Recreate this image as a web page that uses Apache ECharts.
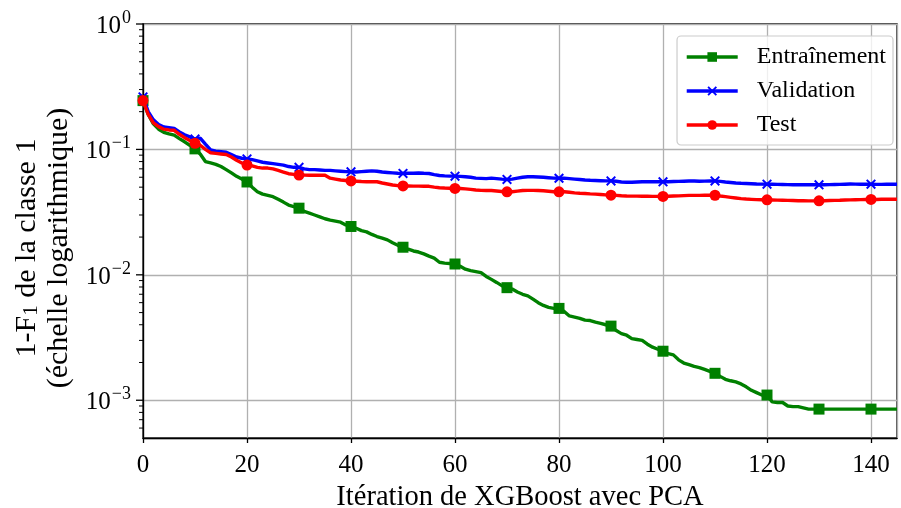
<!DOCTYPE html>
<html><head><meta charset="utf-8">
<script src="https://cdn.jsdelivr.net/npm/echarts@6/dist/echarts.min.js"></script>
<style>html,body{margin:0;padding:0;background:#fff}#c{width:901px;height:508px}</style>
</head><body><div id="c"></div>
<script>
// 1 - F1 (class 1) per XGBoost iteration, iterations 0..145
const trainVals = [
0.245,0.19,0.16,0.145,0.137,0.133,0.13,0.122,0.115,0.108,
0.101,0.092,0.08,0.078,0.076,0.073,0.069,0.065,0.061,0.058,
0.055,0.05,0.046,0.044,0.043,0.042,0.04,0.038,0.036,0.035,
0.034,0.032,0.031,0.030,0.029,0.028,0.0273,0.0268,0.0263,0.025,
0.0243,0.0235,0.0225,0.022,0.021,0.0202,0.0196,0.019,0.018,0.0172,
0.0166,0.016,0.0155,0.0152,0.0147,0.0141,0.0136,0.0126,0.0124,0.0123,
0.0122,0.0117,0.0111,0.0108,0.0106,0.0104,0.0097,0.0092,0.0087,0.0082,
0.0079,0.0077,0.0073,0.0070,0.0068,0.0064,0.0060,0.0057,0.0055,0.0054,
0.0054,0.0051,0.0047,0.0046,0.0045,0.00435,0.00432,0.0042,0.0041,0.0040,
0.0039,0.0036,0.0034,0.0033,0.0031,0.00305,0.003,0.0028,0.00265,0.00255,
0.00246,0.00235,0.0023,0.0021,0.00198,0.00192,0.00186,0.00182,0.00176,0.0017,
0.00164,0.00155,0.00147,0.00143,0.0014,0.00135,0.00128,0.0012,0.00115,0.0011,
0.0011,0.00097,0.00096,0.00096,0.0009,0.00089,0.00089,0.00087,0.00085,0.00085,
0.00085,0.00085,0.00085,0.00085,0.00085,0.00085,0.00085,0.00085,0.00085,0.00085,
0.00085,0.00085,0.00085,0.00085,0.00085,0.00085
];
const validVals = [
0.262,0.2,0.172,0.158,0.151,0.149,0.147,0.138,0.131,0.126,
0.121,0.123,0.11,0.099,0.097,0.096,0.095,0.091,0.087,0.085,
0.084,0.083,0.081,0.079,0.078,0.077,0.076,0.075,0.073,0.072,
0.072,0.07,0.069,0.069,0.0685,0.068,0.068,0.0675,0.067,0.0665,
0.0663,0.066,0.0665,0.067,0.0675,0.067,0.066,0.0655,0.065,0.0645,
0.0643,0.0645,0.0645,0.0648,0.0645,0.0643,0.063,0.062,0.0615,0.0612,
0.0612,0.061,0.0605,0.06,0.059,0.0588,0.0585,0.059,0.0585,0.058,
0.0576,0.058,0.059,0.06,0.0605,0.0605,0.0603,0.06,0.0595,0.059,
0.0589,0.059,0.0585,0.058,0.0575,0.057,0.0567,0.0565,0.0563,0.0561,
0.0561,0.0557,0.055,0.0548,0.0548,0.055,0.0552,0.0553,0.0552,0.0552,
0.0552,0.0553,0.0555,0.0556,0.0558,0.056,0.056,0.0558,0.0559,0.056,
0.0561,0.0556,0.055,0.0545,0.054,0.0537,0.0535,0.0533,0.053,0.0529,
0.0528,0.0527,0.0526,0.0525,0.0524,0.0523,0.0523,0.0523,0.0522,0.0522,
0.0522,0.0523,0.0524,0.0525,0.0526,0.0528,0.053,0.0529,0.0528,0.0528,
0.0528,0.0526,0.0526,0.0527,0.0528,0.0528
];
const testVals = [
0.245,0.19,0.163,0.152,0.145,0.143,0.142,0.132,0.124,0.118,
0.112,0.108,0.1,0.094,0.093,0.092,0.091,0.087,0.082,0.078,
0.075,0.074,0.072,0.071,0.071,0.07,0.068,0.066,0.064,0.0632,
0.0624,0.0624,0.0622,0.0622,0.0624,0.0622,0.059,0.058,0.057,0.0565,
0.0561,0.0558,0.0555,0.0553,0.0552,0.0552,0.054,0.053,0.052,0.0514,
0.0512,0.0511,0.051,0.051,0.0509,0.0508,0.05,0.0495,0.0492,0.049,
0.0489,0.0488,0.0485,0.048,0.0475,0.0471,0.047,0.047,0.0466,0.0462,
0.0459,0.046,0.0465,0.047,0.0471,0.0471,0.047,0.0468,0.0464,0.046,
0.0459,0.046,0.0455,0.045,0.0447,0.0445,0.0442,0.044,0.0437,0.0434,
0.0432,0.043,0.0427,0.0425,0.0424,0.0424,0.0423,0.0423,0.0422,0.0422,
0.0422,0.0423,0.0425,0.0426,0.0428,0.043,0.043,0.043,0.0431,0.0431,
0.0431,0.0425,0.042,0.0415,0.041,0.0405,0.0402,0.04,0.0398,0.0397,
0.0396,0.0395,0.0394,0.0393,0.0392,0.0391,0.039,0.039,0.0389,0.0389,
0.0389,0.039,0.0391,0.0392,0.0393,0.0395,0.0396,0.0397,0.0398,0.0399,
0.0399,0.0399,0.04,0.04,0.04,0.04
];
const seriesNames = ['Entraînement', 'Validation', 'Test'];
const xTicks = [0, 20, 40, 60, 80, 100, 120, 140];
const yMajorTicks = [1, 0.1, 0.01, 0.001];
const yMinorTicks = [
0.9,0.8,0.7,0.6,0.5,0.4,0.3,0.2,
0.09,0.08,0.07,0.06,0.05,0.04,0.03,0.02,
0.009,0.008,0.007,0.006,0.005,0.004,0.003,0.002,
0.0009,0.0008,0.0007,0.0006
];
const markerEvery = 10;

const SERIF = '"Liberation Serif","DejaVu Serif",serif';
const TXT = 25;

function toData(vals) {
  return vals.map((v, i) => {
    const item = { value: [i, v] };
    if (i % markerEvery !== 0) item.symbol = 'none';
    return item;
  });
}
const crossPath = 'path://M0,1.4L1.4,0L5,3.6L8.6,0L10,1.4L6.4,5L10,8.6L8.6,10L5,6.4L1.4,10L0,8.6L3.6,5Z';

const tickData = yMajorTicks.map(v => [0, v, 1]).concat(yMinorTicks.map(v => [0, v, 0]));

const chart = echarts.init(document.getElementById('c'), null, { renderer: 'canvas' });
chart.setOption({
  animation: false,
  backgroundColor: '#fff',
  textStyle: { fontFamily: SERIF },
  grid: { left: 143, right: 4, top: 24, bottom: 70, show: true, borderColor: '#000', borderWidth: 1.3,
          containLabel: false, outerBoundsMode: 'none' },
  legend: {
    data: seriesNames,
    orient: 'vertical',
    right: 8, top: 36,
    padding: [9, 7, 8, 8],
    itemGap: 10,
    itemWidth: 51, itemHeight: 12,
    backgroundColor: 'rgba(255,255,255,0.8)',
    borderColor: '#cccccc', borderWidth: 1.2, borderRadius: 4,
    lineStyle: { width: 3.4 },
    textStyle: { fontFamily: SERIF, fontSize: 24, color: '#000', padding: [0, 0, 0, 14] }
  },
  xAxis: {
    type: 'value', min: 0, max: 145, interval: 20,
    name: 'Itération de XGBoost avec PCA',
    nameLocation: 'middle', nameGap: 43,
    nameTextStyle: { fontFamily: SERIF, fontSize: 28.5, color: '#000' },
    axisLine: { show: true, lineStyle: { color: '#000', width: 1.3 } },
    axisTick: { show: true, inside: false, length: 5, lineStyle: { color: '#000', width: 1.3 } },
    axisLabel: { show: true, showMaxLabel: false, margin: 15, fontFamily: SERIF, fontSize: TXT, color: '#000',
      formatter: v => (xTicks.indexOf(v) >= 0 ? String(v) : '') },
    splitLine: { show: true, lineStyle: { color: '#b0b0b0', width: 1.3 } }
  },
  yAxis: {
    type: 'log', logBase: 10, min: 0.0005, max: 1,
    name: '{a|1-F}{sub|1}{a| de la classe 1}\n{a|(échelle logarithmique)}',
    nameLocation: 'middle', nameGap: 66, nameRotate: 90,
    nameTextStyle: {
      fontFamily: SERIF, fontSize: 30, color: '#000', lineHeight: 32,
      padding: [0, 34, 0, 0],
      rich: {
        a: { fontFamily: SERIF, fontSize: 30, color: '#000', lineHeight: 32 },
        sub: { fontFamily: SERIF, fontSize: 21, color: '#000', lineHeight: 32, padding: [10, 0, 0, 0] }
      }
    },
    axisLine: { show: true, lineStyle: { color: '#000', width: 1.3 } },
    axisTick: { show: false },
    axisLabel: {
      show: true, margin: 12, fontFamily: SERIF, color: '#000',
      formatter: v => {
        const e = Math.log10(v);
        const r = Math.round(e);
        if (Math.abs(e - r) > 1e-6) return '';
        const s = r < 0 ? '\u2212' + String(-r) : String(r);
        return '{b|10}{s|' + s + '}';
      },
      rich: {
        b: { fontFamily: SERIF, fontSize: TXT, color: '#000', verticalAlign: 'bottom' },
        s: { fontFamily: SERIF, fontSize: 18, color: '#000', verticalAlign: 'bottom', padding: [0, 0, 12, 1] }
      }
    },
    splitLine: { show: true, lineStyle: { color: '#b0b0b0', width: 1.3 } },
    minorTick: { show: false }
  },
  series: [
    {
      name: seriesNames[0], type: 'line', data: toData(trainVals),
      symbol: 'rect', symbolSize: 11, showSymbol: true, showAllSymbol: true,
      lineStyle: { color: '#008000', width: 3.4 }, itemStyle: { color: '#008000' },
      z: 3
    },
    {
      name: seriesNames[1], type: 'line', data: toData(validVals),
      symbol: crossPath, symbolSize: 10, showSymbol: true, showAllSymbol: true,
      lineStyle: { color: '#0000ff', width: 3.4 }, itemStyle: { color: '#0000ff' },
      z: 4
    },
    {
      name: seriesNames[2], type: 'line', data: toData(testVals),
      symbol: 'circle', symbolSize: 11, showSymbol: true, showAllSymbol: true,
      lineStyle: { color: '#ff0000', width: 3.4 }, itemStyle: { color: '#ff0000' },
      z: 5
    },
    {
      type: 'custom', name: 'yticks', silent: true, clip: false, z: 10,
      data: tickData,
      encode: { x: 0, y: 1 },
      renderItem: (params, api) => {
        const p = api.coord([0, api.value(1)]);
        const major = api.value(2) === 1;
        const len = major ? 7 : 4;
        return { type: 'line', shape: { x1: p[0] - len, y1: p[1], x2: p[0], y2: p[1] },
          style: { stroke: '#000', lineWidth: major ? 1.3 : 1 } };
      }
    }
  ]
});
</script>
</body></html>
